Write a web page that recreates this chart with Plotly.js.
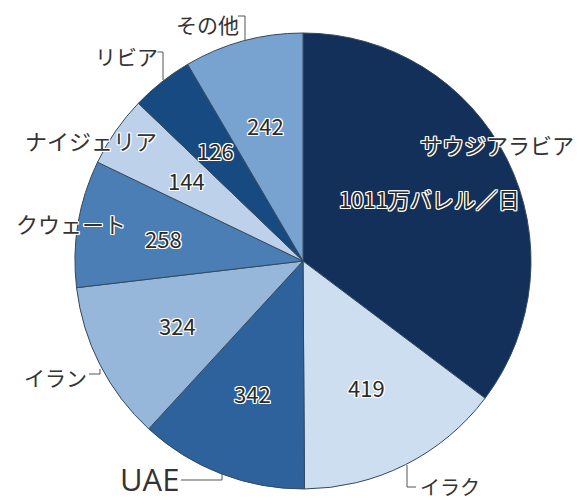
<!DOCTYPE html>
<html><head><meta charset="utf-8">
<script src="https://cdn.plot.ly/plotly-3.0.1.min.js"></script>
<style>html,body{margin:0;padding:0;background:#fff}</style>
</head><body>
<div id="chart" style="width:579px;height:504px"></div>
<script>
// Data (10,000 barrels / day)
const countries = ['サウジアラビア','イラク','UAE','イラン','クウェート','ナイジェリア','リビア','その他'];
const values = [1011, 419, 342, 324, 258, 144, 126, 242];
const colors = ['#13305a','#cddef0','#2d629c','#96b7da','#4a7eb5','#bdd2ea','#174a80','#78a2cf'];

const W = 579, H = 504;
const cx = 303, cy = 261, R = 228;
const px = x => x / W;
const py = y => 1 - y / H;

const total = values.reduce((a, b) => a + b, 0);
const halo = '1px 1px 0 #fff, -1px -1px 0 #fff, 1px -1px 0 #fff, -1px 1px 0 #fff, 0 1px 0 #fff, 0 -1px 0 #fff, 1px 0 0 #fff, -1px 0 0 #fff';
const cjk = '"Noto Sans CJK JP", "Noto Sans", sans-serif';

const trace = {
  type: 'pie',
  values: values,
  labels: countries,
  sort: false,
  direction: 'clockwise',
  rotation: 0,
  marker: {colors: colors, line: {color: '#34495e', width: 1}},
  textinfo: 'none',
  hoverinfo: 'label+value',
  showlegend: false,
  domain: {x: [px(cx - R), px(cx + R)], y: [py(cy + R), py(cy - R)]}
};

// value labels placed along each slice bisector
const annotations = [];
let cum = 0;
values.forEach((v, i) => {
  const mid = (cum + v / 2) / total * 2 * Math.PI;
  cum += v;
  const r = 0.62 * R;
  const x = cx + r * Math.sin(mid), y = cy - r * Math.cos(mid);
  const txt = i === 0 ? v + '万バレル／日' : String(v);
  annotations.push({
    xref: 'paper', yref: 'paper', x: px(x), y: py(y), showarrow: false,
    text: txt, xanchor: 'center', yanchor: 'middle',
    font: {family: cjk, size: 22, color: '#2b2b2b', shadow: halo}
  });
});

// outside category labels
const outside = [
  {t: countries[0], x: 497, y: 144, s: 22},
  {t: countries[7], x: 207, y: 24, s: 21},
  {t: countries[6], x: 126, y: 56, s: 21},
  {t: countries[5], x: 91, y: 140, s: 22},
  {t: countries[4], x: 71, y: 223, s: 22},
  {t: countries[3], x: 55, y: 377, s: 21},
  {t: countries[2], x: 149, y: 479, s: 31, f: '"Open Sans", "Noto Sans", sans-serif'},
  {t: countries[1], x: 450, y: 486, s: 20}
];
outside.forEach(o => annotations.push({
  xref: 'paper', yref: 'paper', x: px(o.x), y: py(o.y), showarrow: false,
  text: o.t, xanchor: 'center', yanchor: 'middle',
  font: {family: o.f || cjk, size: o.s, color: '#333333', shadow: halo}
}));

// leader lines
const leaders = [
  [[238,16],[245,16],[245,41]],
  [[157,52],[163,52],[163,80]],
  [[89,374],[100,374],[100,369]],
  [[181,480],[222,480],[222,473]],
  [[407,465],[407,487],[416,487]]
];
const shapes = leaders.map(p => ({
  type: 'path', xref: 'paper', yref: 'paper',
  path: 'M' + p.map(q => px(q[0]) + ',' + py(q[1])).join(' L'),
  line: {color: '#555555', width: 1}
}));

const layout = {
  width: W, height: H,
  margin: {l: 0, r: 0, t: 0, b: 0},
  paper_bgcolor: '#ffffff',
  annotations: annotations,
  shapes: shapes
};

Plotly.newPlot('chart', [trace], layout, {displayModeBar: false, staticPlot: true});
</script>
</body></html>
